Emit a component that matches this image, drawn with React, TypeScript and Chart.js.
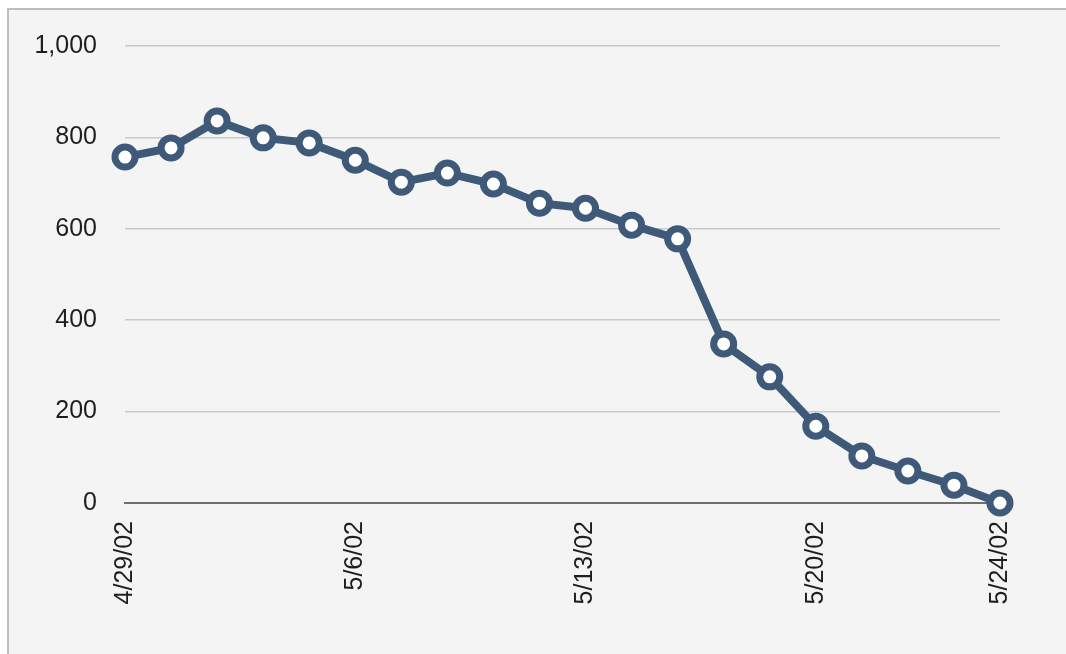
import React, { useEffect, useRef } from "react";
import { Chart, registerables } from "chart.js";

Chart.register(...registerables);

const categories = [
  "4/29/02", "4/30/02", "5/1/02", "5/2/02", "5/3/02",
  "5/6/02", "5/7/02", "5/8/02", "5/9/02", "5/10/02",
  "5/13/02", "5/14/02", "5/15/02", "5/16/02", "5/17/02",
  "5/20/02", "5/21/02", "5/22/02", "5/23/02", "5/24/02",
];
const values = [
  757, 777, 836, 799, 788,
  750, 702, 722, 698, 656,
  645, 608, 578, 348, 276,
  168, 103, 70, 39, 0,
];
const shownTickLabels = ["4/29/02", "5/6/02", "5/13/02", "5/20/02", "5/24/02"];

const LINE = "rgb(62,90,120)";

const panelPlugin = {
  id: "panel",
  beforeDraw(chart: any) {
    const { ctx, width, height } = chart;
    ctx.save();
    ctx.fillStyle = "#ffffff";
    ctx.fillRect(0, 0, width, height);
    ctx.fillStyle = "#f4f4f4";
    ctx.fillRect(8, 9, width - 8, height - 9);
    ctx.strokeStyle = "#bdbdbd";
    ctx.lineWidth = 2;
    ctx.beginPath();
    ctx.moveTo(8, height);
    ctx.lineTo(8, 9);
    ctx.lineTo(width, 9);
    ctx.stroke();
    ctx.restore();
  },
};

export default function App() {
  const ref = useRef<HTMLCanvasElement>(null);
  useEffect(() => {
    if (!ref.current) return;
    const chart = new Chart(ref.current, {
      type: "line",
      data: {
        labels: categories,
        datasets: [
          {
            data: values,
            borderColor: LINE,
            borderWidth: 8,
            pointRadius: 10,
            pointBorderWidth: 7,
            pointBackgroundColor: "#ffffff",
            pointBorderColor: LINE,
            tension: 0,
            clip: false as any,
          },
        ],
      },
      options: {
        animation: false,
        responsive: false,
        devicePixelRatio: 1,
        layout: { padding: { top: 46, right: 66, left: 0, bottom: 0 } },
        plugins: { legend: { display: false }, tooltip: { enabled: false } },
        scales: {
          x: {
            offset: false,
            grid: { display: false, drawTicks: false },
            border: { display: true, color: "#6e6e6e", width: 2 },
            ticks: {
              autoSkip: false,
              maxRotation: 90,
              minRotation: 90,
              padding: 18,
              color: "#1e1e1e",
              font: { family: "Liberation Sans, Arial, sans-serif", size: 25 },
              callback: (_v: any, i: number) =>
                shownTickLabels.includes(categories[i]) ? categories[i] : "",
            },
            afterFit: (s: any) => {
              s.height = 151;
            },
          },
          y: {
            min: 0,
            max: 1000,
            grid: { color: "#c9c9c9", lineWidth: 1.5, drawTicks: false },
            border: { display: false },
            ticks: {
              stepSize: 200,
              padding: 28,
              color: "#1e1e1e",
              font: { family: "Liberation Sans, Arial, sans-serif", size: 25 },
              callback: (v: any) => Number(v).toLocaleString("en-US"),
            },
            afterFit: (s: any) => {
              s.width = 125;
            },
          },
        },
      },
      plugins: [panelPlugin],
    });
    return () => chart.destroy();
  }, []);
  return (
    <div style={{ position: "fixed", left: 0, top: 0, width: 1066, height: 654 }}>
      <canvas ref={ref} width={1066} height={654} style={{ width: 1066, height: 654 }} />
    </div>
  );
}
